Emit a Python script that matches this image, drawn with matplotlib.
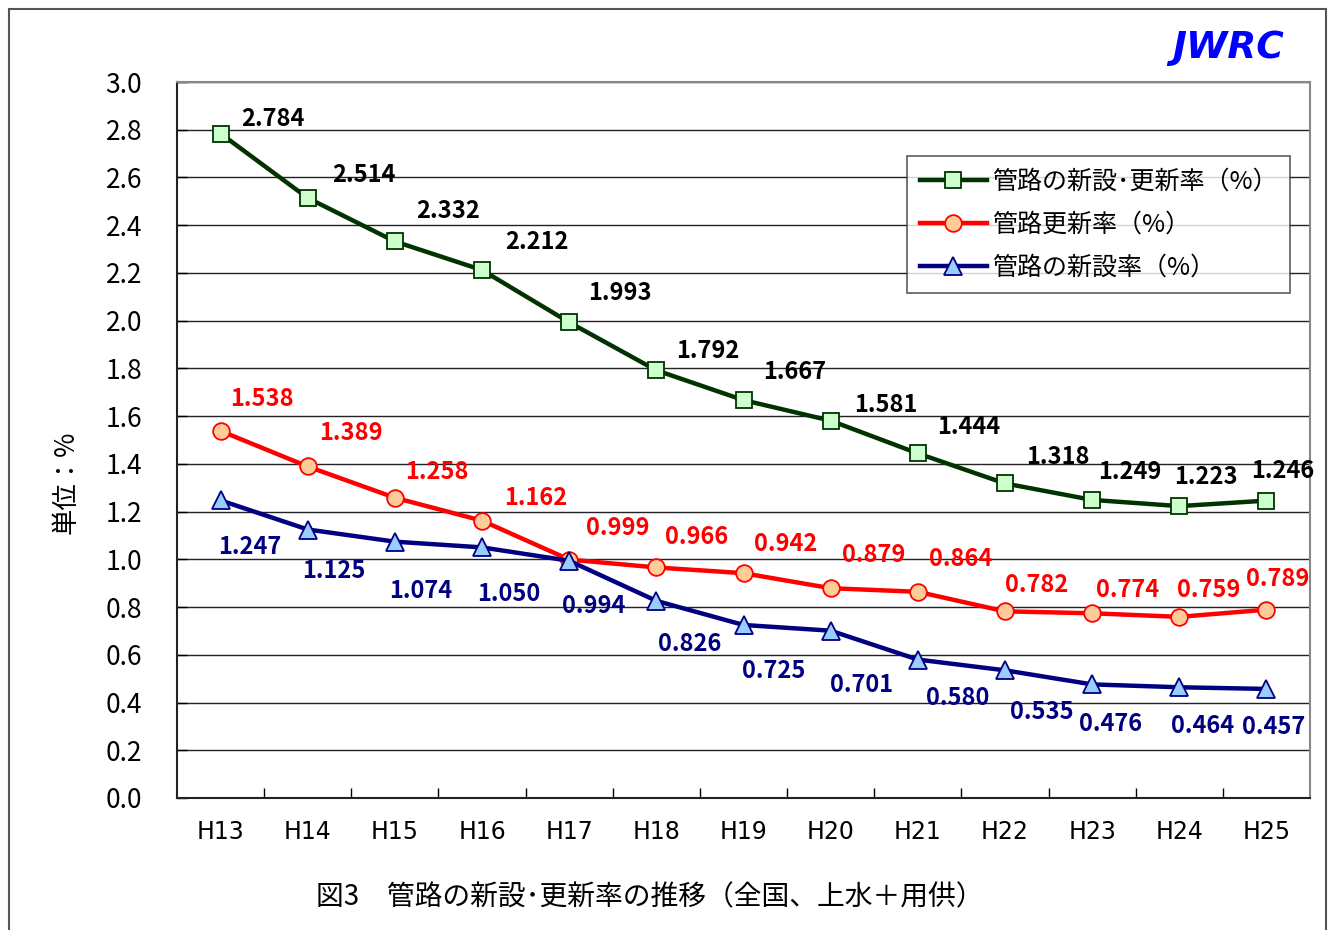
import matplotlib.pyplot as plt
from matplotlib.patches import Rectangle

plt.rcParams['font.family'] = ['Noto Sans CJK JP', 'DejaVu Sans']

# données
annees = ["H13", "H14", "H15", "H16", "H17", "H18", "H19",
          "H20", "H21", "H22", "H23", "H24", "H25"]
taux_total = [2.784, 2.514, 2.332, 2.212, 1.993, 1.792, 1.667,
              1.581, 1.444, 1.318, 1.249, 1.223, 1.246]
taux_renouv = [1.538, 1.389, 1.258, 1.162, 0.999, 0.966, 0.942,
               0.879, 0.864, 0.782, 0.774, 0.759, 0.789]
taux_neuf = [1.247, 1.125, 1.074, 1.050, 0.994, 0.826, 0.725,
             0.701, 0.580, 0.535, 0.476, 0.464, 0.457]

noms = ["管路の新設･更新率（%）", "管路更新率（%）", "管路の新設率（%）"]

# décalages des étiquettes (pixels)
off_total = [(52, 15), (56, 23), (53, 30), (55, 28), (51, 29), (51, 19), (51, 28),
             (55, 16), (51, 26), (53, 26), (38, 28), (27, 29), (16, 30)]
off_renouv = [(41, 32), (43, 33), (42, 26), (54, 23), (49, 32), (40, 30), (42, 29),
              (43, 33), (43, 33), (32, 26), (35, 23), (29, 27), (11, 31)]
off_neuf = [(29, -47), (26, -42), (26, -49), (27, -47), (24, -45), (33, -43), (30, -46),
            (31, -54), (40, -38), (37, -42), (18, -40), (23, -39), (7, -38)]

fig = plt.figure(figsize=(13.3, 9.3), dpi=100)
ax = fig.add_axes([177 / 1330, 1 - 798 / 930, (1310 - 177) / 1330, (798 - 82) / 930])

x = list(range(len(annees)))

ax.plot(x, taux_total, color="#003300", lw=3.2, marker="s", ms=11,
        mfc="#CCFFCC", mec="#003300", mew=1.3, label=noms[0], zorder=4)
ax.plot(x, taux_renouv, color="#FF0000", lw=3.2, marker="o", ms=12,
        mfc="#FFCC99", mec="#FF0000", mew=1.3, label=noms[1], zorder=4)
ax.plot(x, taux_neuf, color="#000080", lw=3.2, marker="^", ms=13,
        mfc="#99CCFF", mec="#000080", mew=1.3, label=noms[2], zorder=4)

for vals, offs, col in [(taux_total, off_total, "black"),
                        (taux_renouv, off_renouv, "#FF0000"),
                        (taux_neuf, off_neuf, "#000080")]:
    for i, v in enumerate(vals):
        ax.annotate(f"{v:.3f}", (i, v), xytext=offs[i], textcoords="offset pixels",
                    ha="center", va="center", fontsize=17, fontweight="bold",
                    color=col, zorder=5)

ax.set_xlim(-0.5, len(annees) - 0.5)
ax.set_ylim(0, 3.0)
ax.set_yticks([i / 5 for i in range(16)])
ax.set_yticklabels([f"{i / 5:.1f}" for i in range(16)], fontsize=19)
ax.set_xticks(x)
ax.set_xticklabels(annees, fontsize=17, family="DejaVu Sans")
ax.set_xticks([i + 0.5 for i in range(len(annees) - 1)], minor=True)
ax.tick_params(axis="x", which="major", length=0, pad=16)
ax.tick_params(axis="x", which="minor", direction="in", length=7, width=1)
ax.tick_params(axis="y", direction="in", length=7, width=1, pad=25)

ax.grid(axis="y", color="#222222", lw=1)
ax.set_axisbelow(True)
for s in ["top", "right"]:
    ax.spines[s].set_color("#888888")
    ax.spines[s].set_linewidth(1.5)
for s in ["left", "bottom"]:
    ax.spines[s].set_color("#222222")
    ax.spines[s].set_linewidth(1.5)

ax.set_ylabel("単位：%", fontsize=19)
ax.yaxis.set_label_coords((80 - 177) / 1133, (798 - 482) / 716)

leg = ax.legend(loc="upper left", bbox_to_anchor=((907 - 177) / 1133, 1 - (156 - 82) / 716),
                fontsize=18, frameon=True, fancybox=False, edgecolor="#333333",
                handlelength=2.7, borderpad=0.5, labelspacing=0.68, handletextpad=0.2,
                borderaxespad=0)
leg.get_frame().set_linewidth(1.2)

fig.text(1228 / 1330, 1 - 48 / 930, "JWRC", color="#0000FF", fontsize=27,
         fontweight="bold", style="italic", ha="center", va="center", family="DejaVu Sans")
fig.text(650 / 1330, 1 - 897 / 930, "図3　管路の新設･更新率の推移（全国、上水＋用供）",
         fontsize=20, ha="center", va="center")

fig.patches.append(Rectangle((9 / 1330, -0.01), (1326 - 9) / 1330, 1 - 9 / 930 + 0.01,
                             transform=fig.transFigure, fill=False,
                             edgecolor="#555555", lw=1.5))

plt.savefig("out.png")
